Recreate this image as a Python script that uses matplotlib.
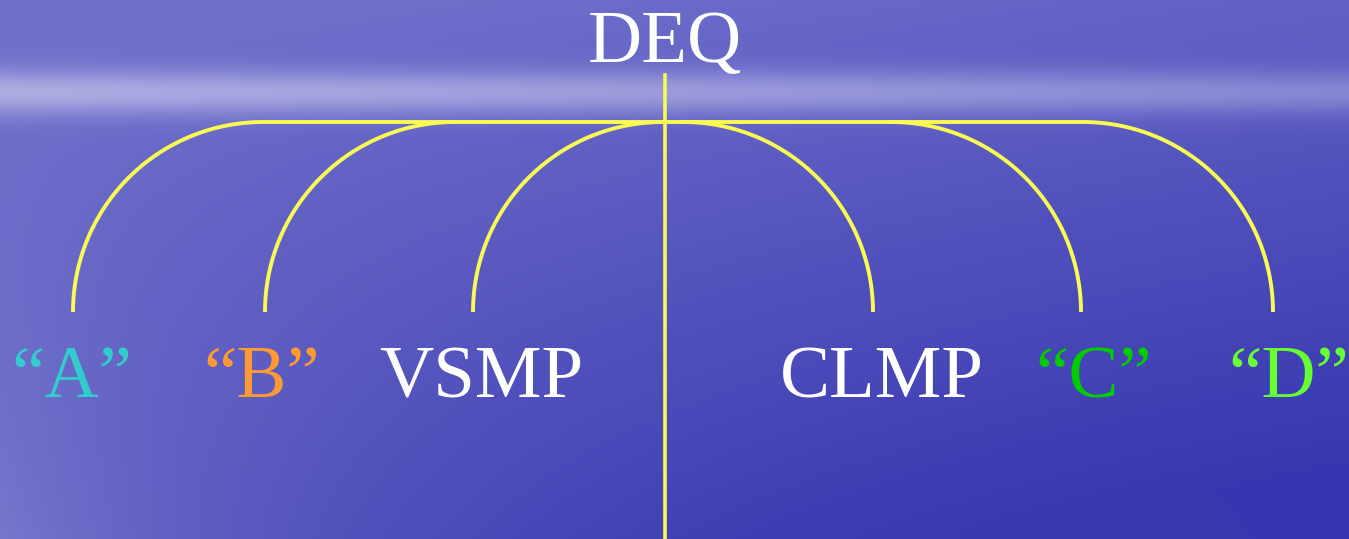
import numpy as np
import matplotlib
matplotlib.use('Agg')
import matplotlib.pyplot as plt

W, H = 1349, 539

# tree content
root_label = 'DEQ'
leaf_labels = ['\u201cA\u201d', '\u201cB\u201d', 'VSMP', 'CLMP', '\u201cC\u201d', '\u201cD\u201d']
leaf_colors = ['#33cccc', '#ff9933', '#ffffff', '#ffffff', '#00cc00', '#66ff33']
leaf_x = [73, 265, 473, 873, 1081, 1273]
label_x = [72, 262, 481, 882, 1094, 1289]

trunk_x = 665
bar_y = 122
leaf_y = 312
radius = 190
line_col = '#fafa55'

fig = plt.figure(figsize=(W / 100, H / 100), dpi=100)
ax = fig.add_axes([0, 0, 1, 1])
ax.set_xlim(0, W)
ax.set_ylim(H, 0)
ax.axis('off')

# sky / sea background
yy, xx = np.mgrid[0:H, 0:W]
fx = xx / W
fy = yy / H
top = np.array([0.44, 0.44, 0.80])
bottom = np.array([0.21, 0.21, 0.69])
t = np.clip((fy - 0.1) * 0.85 + fx * 0.35, 0, 1)[..., None]
img = top * (1 - t) + bottom * t
# lighter haze on the left of the sea
haze = (np.exp(-fx / 0.25) * np.clip((fy - 0.1) / 0.9, 0, 1))[..., None]
img = img + haze * (np.array([0.60, 0.60, 0.86]) - img) * 0.6
# soft horizon band
band = np.exp(-((yy - 92) / 22.0) ** 2)[..., None] * (0.8 - 0.35 * fx[..., None])
img = img + band * (np.array([0.74, 0.74, 0.91]) - img)
ax.imshow(np.clip(img, 0, 1), extent=[0, W, H, 0], aspect='auto', zorder=0)

# trunk and bar
ax.plot([trunk_x, trunk_x], [75, H], color=line_col, lw=2.6, zorder=2)
tops = [x + radius if x < trunk_x else x - radius for x in leaf_x]
ax.plot([min(tops), max(tops)], [bar_y, bar_y], color=line_col, lw=2.8,
        solid_capstyle='butt', zorder=2)

# quarter arcs down to each leaf
th = np.linspace(0, np.pi / 2, 80)
for x, cx in zip(leaf_x, tops):
    sign = -1 if x < trunk_x else 1
    ax.plot(cx + sign * radius * np.sin(th),
            leaf_y - (leaf_y - bar_y) * np.cos(th),
            color=line_col, lw=2.8, solid_capstyle='butt', zorder=2)

font = dict(family=['Liberation Serif', 'DejaVu Serif'], fontsize=54)
ax.text(trunk_x, 62, root_label, color='white', ha='center', va='baseline',
        zorder=3, **font)
for lx, lab, col in zip(label_x, leaf_labels, leaf_colors):
    ax.text(lx, 397, lab, color=col, ha='center', va='baseline', zorder=3, **font)

fig.savefig('out.png', dpi=100)
